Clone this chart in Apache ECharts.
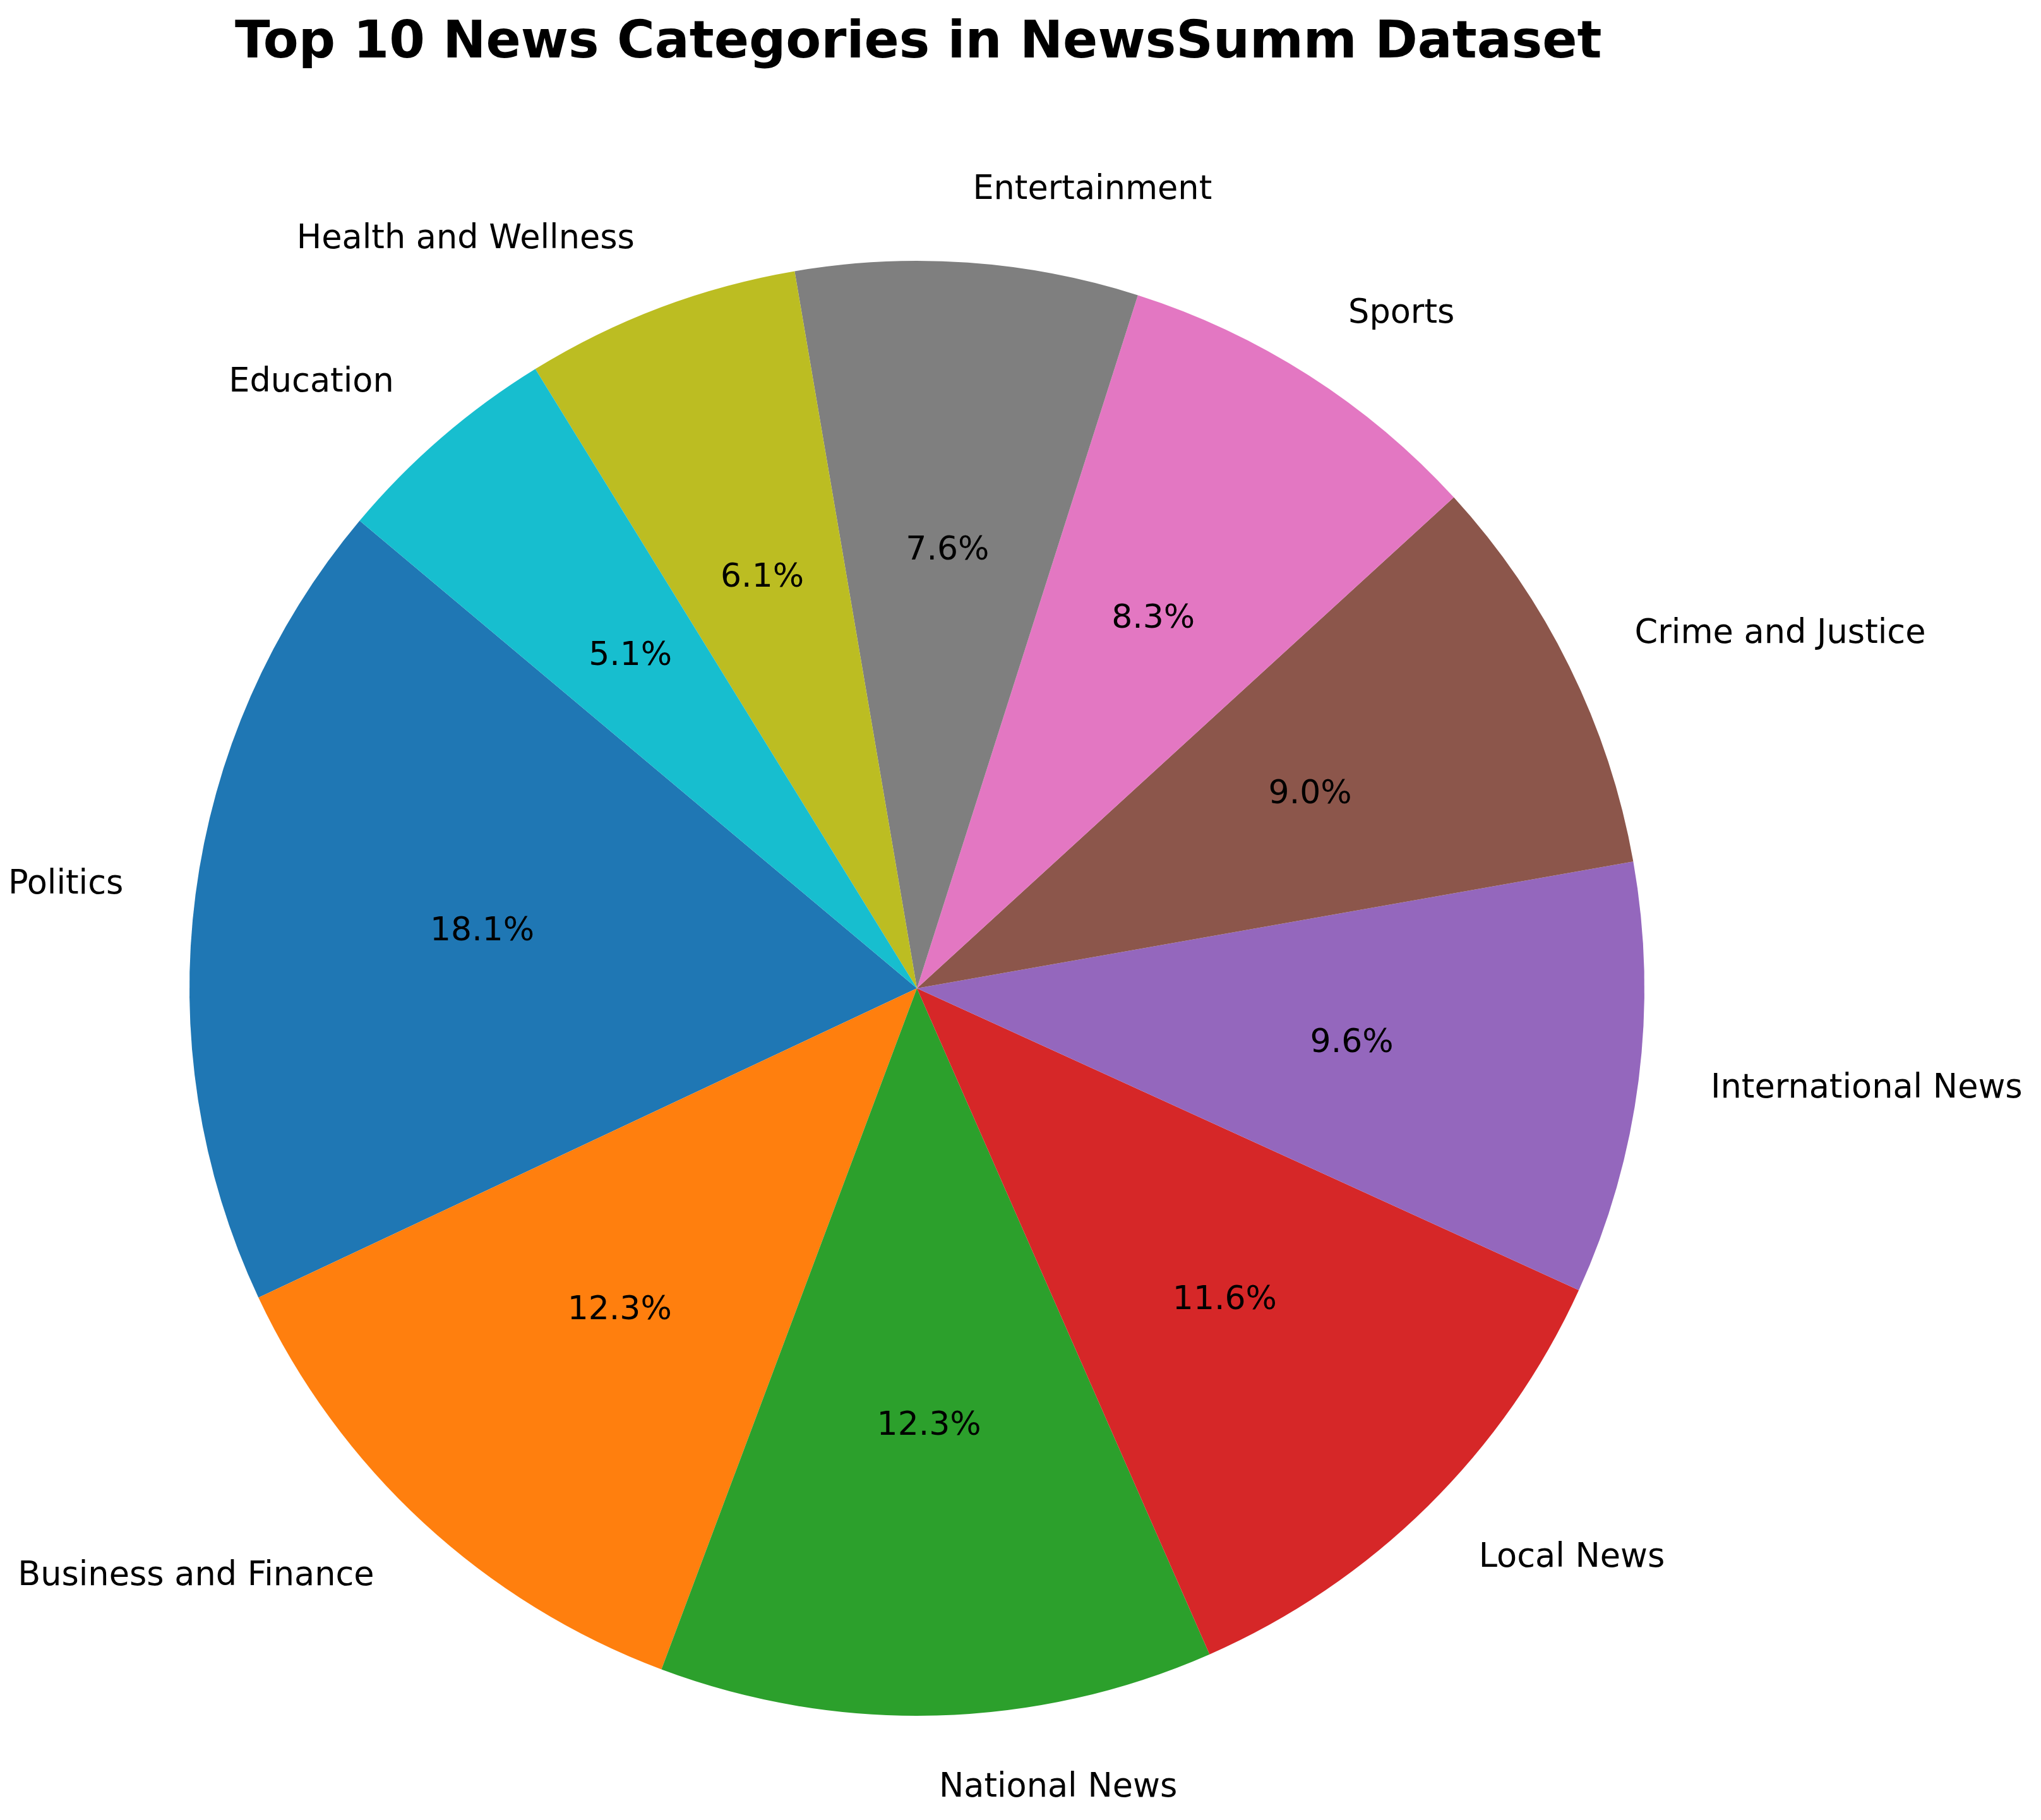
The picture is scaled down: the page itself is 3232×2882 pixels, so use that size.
<!DOCTYPE html>
<html>
<head>
<meta charset="utf-8">
<script src="https://cdn.jsdelivr.net/npm/echarts@6/dist/echarts.min.js"></script>
<style>
html,body{margin:0;padding:0;background:#fff;}
#chart{width:3232px;height:2882px;}
</style>
</head>
<body>
<div id="chart"></div>
<script>
const categories = ["Politics","Business and Finance","National News","Local News","International News","Crime and Justice","Sports","Entertainment","Health and Wellness","Education"];
const shares = [18.1, 12.3, 12.3, 11.6, 9.6, 9.0, 8.3, 7.6, 6.1, 5.1];
const colors = ["#1f77b4","#ff7f0e","#2ca02c","#d62728","#9467bd","#8c564b","#e377c2","#7f7f7f","#bcbd22","#17becf"];
const titleText = "Top 10 News Categories in NewsSumm Dataset";

const CX = 1452, CY = 1565, R = 1152;
const FONT = "DejaVu Sans";

const chart = echarts.init(document.getElementById('chart'), null, {renderer: 'canvas'});

const mainData = categories.map((c, i) => ({
  name: c, value: shares[i], itemStyle: {color: colors[i]}
}));
const pctData = categories.map((c, i) => ({
  name: c, value: shares[i], itemStyle: {color: 'rgba(0,0,0,0)'}
}));

chart.setOption({
  backgroundColor: '#ffffff',
  animation: false,
  title: {
    text: titleText,
    left: 367,
    top: 24,
    textStyle: {fontFamily: FONT, fontWeight: 'bold', fontSize: 81.5, color: '#000'}
  },
  series: [
    {
      type: 'pie',
      center: [CX, CY],
      radius: [0, R],
      startAngle: 140,
      clockwise: false,
      avoidLabelOverlap: false,
      silent: true,
      itemStyle: {borderWidth: 0},
      label: {
        show: true,
        position: 'outside',
        formatter: '{b}',
        fontFamily: FONT,
        fontSize: 52.5,
        color: '#000',
        distanceToLabelLine: 0
      },
      labelLine: {show: false, length: R * 0.1, length2: 0},
      data: mainData
    },
    {
      type: 'pie',
      center: [CX, CY],
      radius: [R * 0.2, R],
      startAngle: 140,
      clockwise: false,
      avoidLabelOverlap: false,
      silent: true,
      itemStyle: {borderWidth: 0},
      label: {
        show: true,
        position: 'inside',
        formatter: p => p.value.toFixed(1) + '%',
        fontFamily: FONT,
        fontSize: 52,
        color: '#000'
      },
      labelLine: {show: false},
      data: pctData
    }
  ]
});
</script>
</body>
</html>
